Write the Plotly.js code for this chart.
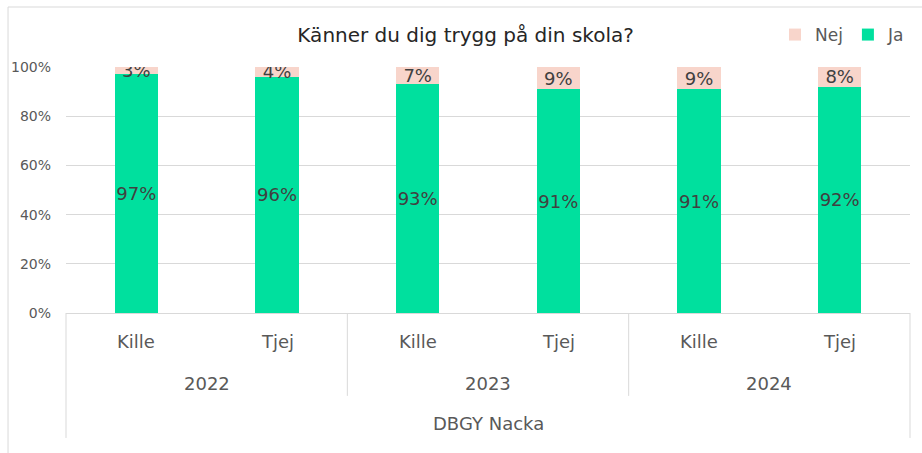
<!DOCTYPE html>
<html><head><meta charset="utf-8">
<script src="https://cdn.plot.ly/plotly-3.0.1.min.js"></script>
<style>html,body{margin:0;padding:0;background:#fff}#chart{width:922px;height:453px}</style>
</head><body><div id="chart"></div>
<script>
const years = ["2022","2022","2023","2023","2024","2024"];
const genders = ["Kille","Tjej","Kille","Tjej","Kille","Tjej"];
const ja = [0.97, 0.96, 0.93, 0.91, 0.91, 0.92];
const nej = [0.03, 0.04, 0.07, 0.09, 0.09, 0.08];
const school = "DBGY Nacka";
const title = "Känner du dig trygg på din skola?";

const FONT = "'DejaVu Sans', sans-serif";
const TXT = "#595959";
const lineCol = "#D9D9D9";
const cats = genders.map((g,i)=>years[i]+" "+g);

const traces = [
  {type:"bar", name:"Ja", x:cats, y:ja, marker:{color:"#00E09E"}, width:0.31,
   text: ja.map(v=>Math.round(v*100)+"%"), textposition:"inside", insidetextanchor:"middle", textangle:0,
   constraintext:"none", textfont:{family:FONT,size:18,color:"#404040"}, hoverinfo:"skip"},
  {type:"bar", name:"Nej", x:cats, y:nej, marker:{color:"#F8D5CB"}, width:0.31,
   text: nej.map(v=>Math.round(v*100)+"%"), textposition:"inside", insidetextanchor:"middle", textangle:0,
   constraintext:"none", textfont:{family:FONT,size:18,color:"#404040"}, hoverinfo:"skip"}
];

// x-axis multi-level labels and dividers, derived from the data arrays
const annotations = [];
const shapes = [
  {type:"line", xref:"paper", yref:"paper", x0:-0.0687, x1:1.02, y0:1.2439, y1:1.2439, line:{color:lineCol,width:1}},
  {type:"line", xref:"paper", yref:"paper", x0:-0.0687, x1:-0.0687, y0:1.2439, y1:-0.6, line:{color:lineCol,width:1}},
  {type:"line", xref:"paper", yref:"paper", x0:0, x1:0, y0:0, y1:-0.508, line:{color:lineCol,width:1}},
  {type:"line", xref:"paper", yref:"paper", x0:1, x1:1, y0:0, y1:-0.508, line:{color:lineCol,width:1}}
];
genders.forEach((g,i)=>{
  annotations.push({text:g, xref:"x", yref:"paper", x:i, y:-0.114, xanchor:"center", yanchor:"middle",
    showarrow:false, font:{family:FONT,size:18,color:TXT}});
});
const uniqYears = [...new Set(years)];
uniqYears.forEach(yr=>{
  const idx = years.map((v,i)=>v===yr?i:-1).filter(i=>i>=0);
  const first = idx[0], last = idx[idx.length-1];
  annotations.push({text:yr, xref:"x", yref:"paper", x:(first+last)/2, y:-0.285, xanchor:"center", yanchor:"middle",
    showarrow:false, font:{family:FONT,size:18,color:TXT}});
  if (first>0) shapes.push({type:"line", xref:"x", yref:"paper", x0:first-0.5, x1:first-0.5, y0:0, y1:-0.337,
    line:{color:lineCol,width:1}});
});
annotations.push({text:school, xref:"paper", yref:"paper", x:0.5, y:-0.451, xanchor:"center", yanchor:"middle",
  showarrow:false, font:{family:FONT,size:18,color:TXT}});

const layout = {
  width:922, height:453,
  margin:{l:66, r:12, t:67, b:140},
  barmode:"stack",
  paper_bgcolor:"#fff", plot_bgcolor:"#fff",
  font:{family:FONT, color:TXT},
  title:{text:title, x:0.505, xanchor:"center", y:0.922, yanchor:"middle",
         font:{family:FONT, size:20, color:"#262626"}},
  showlegend:true,
  legend:{orientation:"h", traceorder:"reversed", x:1.0, xanchor:"right", y:1.13, yanchor:"middle",
          font:{family:FONT,size:17,color:TXT}, itemwidth:30},
  xaxis:{type:"category", range:[-0.5, cats.length-0.5], showgrid:false, showline:true, linecolor:lineCol, linewidth:1,
         ticks:"", showticklabels:false, fixedrange:true, automargin:false},
  yaxis:{range:[0,1], tickformat:".0%", dtick:0.2, showgrid:true, gridcolor:lineCol, gridwidth:1,
         zeroline:false, showline:false, ticks:"", tickfont:{family:FONT,size:14,color:TXT},
         ticklabelstandoff:14, fixedrange:true, automargin:false},
  shapes:shapes,
  annotations:annotations
};
Plotly.newPlot("chart", traces, layout, {displayModeBar:false, staticPlot:true});
</script></body></html>
